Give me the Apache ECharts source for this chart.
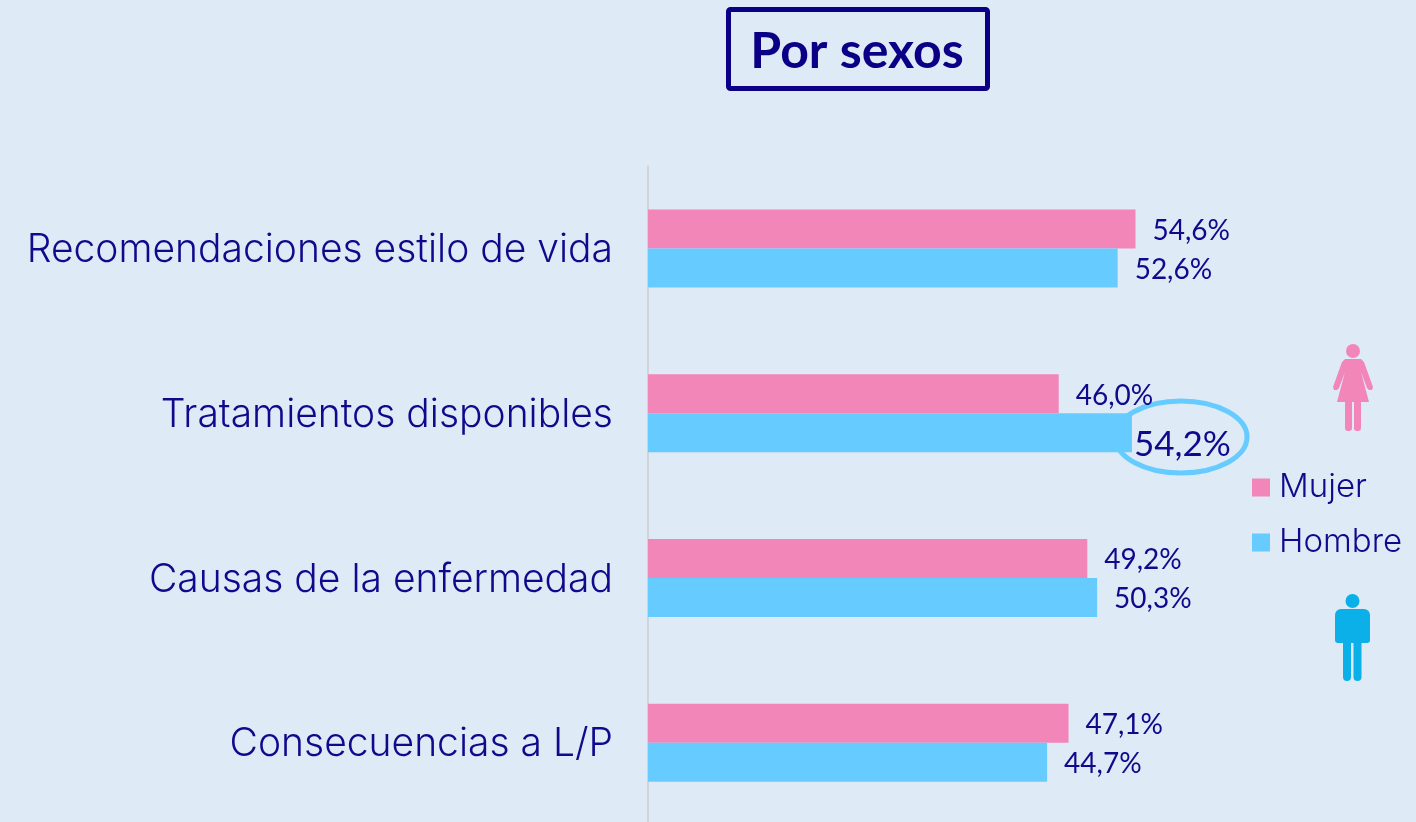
<!DOCTYPE html>
<html>
<head>
<meta charset="utf-8">
<style>
  html, body { margin: 0; padding: 0; background: #deeaf6; }
  #chart { width: 1416px; height: 822px; }
</style>
</head>
<body>
<div id="chart"></div>
<script src="https://cdn.jsdelivr.net/npm/echarts@6/dist/echarts.min.js"></script>
<script>
const categories = ['Recomendaciones estilo de vida', 'Tratamientos disponibles', 'Causas de la enfermedad', 'Consecuencias a L/P']
const mujer = [54.6, 46.0, 49.2, 47.1]
const hombre = [52.6, 54.2, 50.3, 44.7]

const navy = '#0f0a8c'
const pink = '#f386b9'
const blue = '#66ccff'
const manBlue = '#0bb0e8'
const fmt = v => v.toFixed(1).replace('.', ',') + '%'

const chart = echarts.init(document.getElementById('chart'))

const labelStyle = {
  show: true,
  position: 'right',
  distance: 17,
  offset: [0, 2],
  fontFamily: 'Lato',
  fontSize: 28,
  color: navy,
  formatter: p => fmt(p.value)
}

// the two little figures next to the legend
const woman = [
  { type: 'circle', shape: { cx: 1353, cy: 351, r: 7 }, style: { fill: pink } },
  { type: 'polygon', shape: { points: [[1345, 359], [1361, 359], [1364, 362], [1373, 387], [1372, 390], [1369, 390], [1367, 388], [1361, 372], [1369, 402], [1337, 402], [1345, 372], [1339, 388], [1337, 390], [1334, 390], [1333, 387], [1342, 362]] }, style: { fill: pink } },
  { type: 'rect', shape: { x: 1345, y: 400, width: 7, height: 31, r: 3 }, style: { fill: pink } },
  { type: 'rect', shape: { x: 1354, y: 400, width: 7, height: 31, r: 3 }, style: { fill: pink } }
]
const man = [
  { type: 'circle', shape: { cx: 1352.5, cy: 601, r: 7 }, style: { fill: manBlue } },
  { type: 'rect', shape: { x: 1335, y: 609, width: 35, height: 34, r: [6, 6, 3, 3] }, style: { fill: manBlue } },
  { type: 'rect', shape: { x: 1343, y: 630, width: 8, height: 51, r: 4 }, style: { fill: manBlue } },
  { type: 'rect', shape: { x: 1353.5, y: 630, width: 8, height: 51, r: 4 }, style: { fill: manBlue } }
]

chart.setOption({
  backgroundColor: '#deeaf6',
  animation: false,
  title: {
    text: 'Por sexos',
    left: 852,
    top: 22,
    textAlign: 'center',
    textStyle: { fontFamily: 'Lato', fontWeight: 'bold', fontSize: 50, color: '#0b0085' }
  },
  grid: { left: 648, top: 166, width: 625, height: 659, outerBoundsMode: 'none' },
  legend: {
    data: ['Mujer', 'Hombre'],
    orient: 'vertical',
    left: 1247,
    top: 466,
    itemWidth: 18,
    itemHeight: 18,
    itemGap: 22,
    icon: 'rect',
    textStyle: { fontFamily: 'Inter', fontWeight: 300, fontSize: 33, color: navy, padding: [0, 0, 0, 4] }
  },
  xAxis: { type: 'value', min: 0, max: 70, show: false },
  yAxis: {
    type: 'category',
    inverse: true,
    data: categories,
    axisTick: { show: false },
    axisLine: { lineStyle: { color: '#d2d4d6', width: 2 } },
    axisLabel: {
      margin: 35,
      formatter: '{a|{value}}',
      rich: { a: { fontFamily: 'Inter', fontWeight: 300, fontSize: 39, color: navy, padding: [4, 0, 0, 0] } }
    }
  },
  series: [
    {
      name: 'Mujer',
      type: 'bar',
      z: 3,
      barWidth: 39,
      barGap: 0,
      itemStyle: { color: pink },
      label: labelStyle,
      data: mujer
    },
    {
      name: 'Hombre',
      type: 'bar',
      z: 3,
      barWidth: 39,
      barGap: 0,
      itemStyle: { color: blue },
      label: labelStyle,
      data: hombre.map((v, i) => i === 1
        ? { value: v, label: { fontSize: 35, distance: 2, offset: [0, 12] } }
        : v)
    }
  ],
  graphic: [
    { type: 'rect', z: 1, shape: { x: 728.5, y: 9.5, width: 259, height: 79, r: 2 }, style: { fill: 'none', stroke: '#0b0085', lineWidth: 5 } },
    { type: 'ellipse', z: 1, shape: { cx: 1181, cy: 437, rx: 66, ry: 36 }, style: { fill: 'none', stroke: blue, lineWidth: 5 } },
    ...woman,
    ...man
  ]
})
</script>
</body>
</html>
